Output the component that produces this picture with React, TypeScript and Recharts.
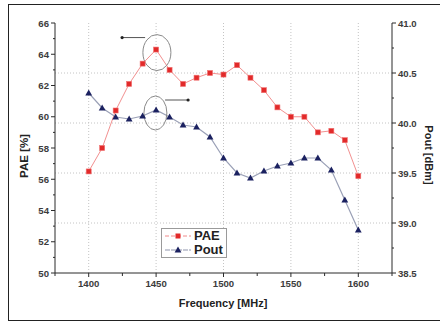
import { LineChart, Line, XAxis, YAxis, ReferenceLine, ReferenceDot, Legend } from 'recharts';

const freq = [1400, 1410, 1420, 1430, 1440, 1450, 1460, 1470, 1480, 1490, 1500, 1510, 1520, 1530, 1540, 1550, 1560, 1570, 1580, 1590, 1600];
const pae = [56.5, 58.0, 60.4, 62.1, 63.4, 64.3, 63.0, 62.1, 62.5, 62.8, 62.7, 63.3, 62.5, 61.7, 60.6, 60.0, 60.0, 59.0, 59.1, 58.5, 56.2];
const pout = [40.3, 40.15, 40.06, 40.04, 40.07, 40.13, 40.06, 39.98, 39.96, 39.86, 39.65, 39.5, 39.45, 39.52, 39.57, 39.6, 39.65, 39.65, 39.53, 39.23, 38.93];

const xTicks = [1375, 1400, 1425, 1450, 1475, 1500, 1525, 1550, 1575, 1600, 1625];
const xMajor = [1400, 1450, 1500, 1550, 1600];
const leftTicks = [50, 51, 52, 53, 54, 55, 56, 57, 58, 59, 60, 61, 62, 63, 64, 65, 66];
const rightTicks = [38.5, 38.75, 39, 39.25, 39.5, 39.75, 40, 40.25, 40.5, 40.75, 41];
const rightGrid = [39, 39.5, 40, 40.5];

const data = freq.map((f, i) => ({ freq: f, pae: pae[i], pout: pout[i] }));

const font = { fontFamily: 'Liberation Sans, Arial, sans-serif', fontWeight: 700 };
const tickColor = '#3c3c3c';
const axisColor = '#2a2a2a';

const BottomTick = ({ x, y, payload }: any) => {
  const major = payload.value % 50 === 0;
  return (
    <g>
      <line x1={x} x2={x} y1={y} y2={y + (major ? 4 : 3)} stroke={axisColor} />
      {major && (
        <text x={x} y={y + 14} textAnchor="middle" fontSize={9.6} fill={tickColor} style={font}>
          {payload.value}
        </text>
      )}
    </g>
  );
};

const TopTick = ({ x, y }: any) => <line x1={x} x2={x} y1={y} y2={y - 4} stroke={axisColor} />;

const LeftTick = ({ x, y, payload }: any) => {
  const major = payload.value % 2 === 0;
  return (
    <g>
      <line x1={x} x2={x - (major ? 4 : 2)} y1={y} y2={y} stroke={axisColor} />
      {major && (
        <text x={x - 6} y={y + 3.5} textAnchor="end" fontSize={9.6} fill={tickColor} style={font}>
          {payload.value}
        </text>
      )}
    </g>
  );
};

const RightTick = ({ x, y, payload }: any) => {
  const major = (payload.value * 2) % 1 === 0;
  return (
    <g>
      <line x1={x} x2={x + (major ? 4 : 2)} y1={y} y2={y} stroke={axisColor} />
      {major && (
        <text x={x + 6} y={y + 3.5} textAnchor="start" fontSize={9.6} fill={tickColor} style={font}>
          {payload.value.toFixed(1)}
        </text>
      )}
    </g>
  );
};

const SquareDot = ({ cx, cy, index }: any) => (
  <rect key={'s' + index} x={cx - 2.5} y={cy - 2.5} width={5} height={5} fill="#e22a2a" stroke="#f07070" strokeWidth={0.6} />
);

const TriDot = ({ cx, cy, index }: any) => (
  <path key={'t' + index} d={`M${cx},${cy - 3.6}L${cx + 3.4},${cy + 2.4}L${cx - 3.4},${cy + 2.4}Z`} fill="#1b2160" />
);

const UpperNote = ({ cx, cy }: any) => (
  <g>
    <ellipse cx={cx + 0.8} cy={cy + 3} rx={14} ry={18} fill="none" stroke="#8a8a8a" strokeWidth={1} />
    <line x1={cx - 34} x2={cx - 11} y1={cy - 12} y2={cy - 12} stroke="#555" strokeWidth={1} />
    <circle cx={cx - 34} cy={cy - 12} r={1.6} fill="#222" />
  </g>
);

const LowerNote = ({ cx, cy }: any) => (
  <g>
    <ellipse cx={cx - 0.7} cy={cy + 3} rx={11.5} ry={17} fill="none" stroke="#8a8a8a" strokeWidth={1} />
    <line x1={cx + 9} x2={cx + 32} y1={cy - 10} y2={cy - 10} stroke="#555" strokeWidth={1} />
    <circle cx={cx + 32} cy={cy - 10} r={1.6} fill="#222" />
  </g>
);

const LegendBox = () => (
  <div style={{ border: '1px solid #9a9a9a', background: '#fff', padding: '0 3px 0 2px', lineHeight: '14px' }}>
    <div style={{ display: 'flex', alignItems: 'center', height: 14 }}>
      <svg width={28} height={12}>
        <line x1={1} x2={27} y1={6} y2={6} stroke="#f08a8a" strokeDasharray="4 2" />
        <rect x={11.5} y={3.5} width={5} height={5} fill="#e22a2a" />
      </svg>
      <span style={{ ...font, fontSize: 13, color: '#222', marginLeft: 2 }}>PAE</span>
    </div>
    <div style={{ display: 'flex', alignItems: 'center', height: 14 }}>
      <svg width={28} height={12}>
        <line x1={1} x2={27} y1={6} y2={6} stroke="#8f95ad" strokeDasharray="5 1" />
        <path d="M14,2.4L17.4,8.4L10.6,8.4Z" fill="#1b2160" />
      </svg>
      <span style={{ ...font, fontSize: 13, color: '#222', marginLeft: 2 }}>Pout</span>
    </div>
  </div>
);

export default function App() {
  return (
    <div style={{ position: 'absolute', left: 0, top: 0, width: 440, height: 322, overflow: 'hidden', background: '#fff' }}>
      <div
        style={{
          position: 'absolute', left: 8, top: 4, width: 440, height: 315,
          borderTop: '1.5px solid #222', borderLeft: '1.5px solid #222', borderBottom: '1.5px solid #222',
        }}
      />
      <LineChart width={440} height={322} data={data} margin={{ top: 23, right: 0, bottom: 0, left: 0 }} style={{ position: 'absolute', left: 0, top: 0 }}>
        {xMajor.map((v) => (
          <ReferenceLine key={'vx' + v} x={v} yAxisId="left" stroke="#c4c4c4" strokeDasharray="1 2" />
        ))}
        {rightGrid.map((v) => (
          <ReferenceLine key={'hy' + v} y={v} yAxisId="right" stroke="#c4c4c4" strokeDasharray="1 2" />
        ))}
        <XAxis
          dataKey="freq" type="number" domain={[1375, 1625]} ticks={xTicks} interval={0} allowDataOverflow
          height={49} tickSize={0} tickMargin={0} tick={<BottomTick />} stroke={axisColor}
          label={() => (
            <text x={223} y={307} textAnchor="middle" fontSize={11} fill="#222" style={font}>Frequency [MHz]</text>
          )}
        />
        <XAxis
          xAxisId="top" orientation="top" type="number" domain={[1375, 1625]} ticks={xTicks} interval={0}
          allowDataOverflow height={0} tickSize={0} tickMargin={0} tick={<TopTick />} stroke={axisColor}
        />
        <YAxis
          yAxisId="left" type="number" domain={[50, 66]} ticks={leftTicks} interval={0} width={55}
          tickSize={0} tickMargin={0} tick={<LeftTick />} stroke={axisColor}
          label={() => (
            <text x={25} y={156} transform="rotate(-90 25 156)" textAnchor="middle" dominantBaseline="middle" fontSize={11.5} fill="#222" style={font}>PAE [%]</text>
          )}
        />
        <YAxis
          yAxisId="right" orientation="right" type="number" domain={[38.5, 41]} ticks={rightTicks} interval={0}
          width={48} tickSize={0} tickMargin={0} tick={<RightTick />} stroke={axisColor}
          label={() => (
            <text x={428} y={155} transform="rotate(90 428 155)" textAnchor="middle" dominantBaseline="middle" fontSize={11} fill="#222" style={font}>Pout [dBm]</text>
          )}
        />
        <Line yAxisId="left" dataKey="pae" stroke="#f29090" strokeWidth={1} dot={SquareDot} activeDot={false} isAnimationActive={false} />
        <Line yAxisId="right" dataKey="pout" stroke="#9aa0b6" strokeWidth={1.2} dot={TriDot} activeDot={false} isAnimationActive={false} />
        <ReferenceDot x={1450} y={pae[freq.indexOf(1450)]} yAxisId="left" shape={UpperNote} />
        <ReferenceDot x={1450} y={pout[freq.indexOf(1450)]} yAxisId="right" shape={LowerNote} />
        <Legend
          layout="vertical" align="center" verticalAlign="middle" content={LegendBox}
          wrapperStyle={{ left: 161, top: 228, width: 'auto', height: 'auto' }}
        />
      </LineChart>
    </div>
  );
}
